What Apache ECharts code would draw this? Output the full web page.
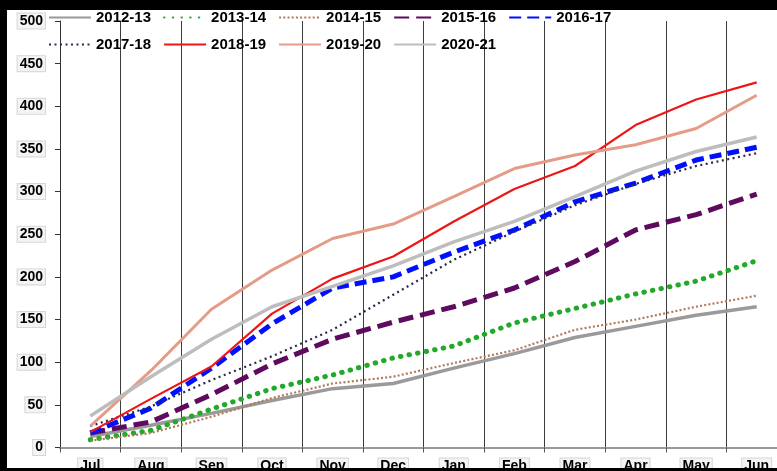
<!DOCTYPE html>
<html>
<head>
<meta charset="utf-8">
<script src="https://cdn.jsdelivr.net/npm/echarts@6/dist/echarts.min.js"></script>
<style>
  html, body { margin: 0; padding: 0; background: #fff; }
  #chart { width: 777px; height: 471px; }
</style>
</head>
<body>
<div id="chart"></div>
<script>
// Month categories (financial year, July to June)
const months = ['Jul', 'Aug', 'Sep', 'Oct', 'Nov', 'Dec', 'Jan', 'Feb', 'Mar', 'Apr', 'May', 'Jun'];

// Cumulative totals per season
const s2012_13 = [13, 26, 40, 55, 69, 75, 93, 110, 129, 142, 155, 165];
const s2013_14 = [9, 20, 45, 69, 85, 105, 119, 146, 163, 180, 195, 219];
const s2014_15 = [8, 17, 36, 58, 75, 83, 99, 114, 138, 150, 165, 178];
const s2015_16 = [17, 30, 62, 98, 127, 147, 165, 187, 218, 255, 273, 297];
const s2016_17 = [17, 46, 93, 145, 187, 200, 229, 255, 288, 310, 337, 352];
const s2017_18 = [25, 48, 79, 107, 138, 179, 220, 253, 284, 309, 330, 345];
const s2018_19 = [18, 57, 95, 157, 198, 224, 265, 303, 330, 378, 408, 428];
const s2019_20 = [25, 90, 162, 208, 245, 262, 294, 327, 343, 355, 374, 413];
const s2020_21 = [37, 83, 127, 165, 189, 213, 241, 265, 294, 324, 347, 364];

// Y axis range
const yMin = 0, yMax = 500, yStep = 50;

function line(name, data, color, width, type, cap) {
  return {
    name: name,
    type: 'line',
    data: data,
    symbol: 'none',
    showSymbol: false,
    smooth: false,
    animation: false,
    lineStyle: { color: color, width: width, type: type || 'solid', cap: cap || 'butt' },
    itemStyle: { color: color }
  };
}

const labelBox = {
  color: '#000',
  fontFamily: 'Liberation Sans, Arial, sans-serif',
  fontWeight: 'bold',
  fontSize: 14,
  backgroundColor: '#f4f4f4',
  borderColor: '#d6d6d6',
  borderWidth: 1,
  padding: [1, 2, 0, 2]
};

const chart = echarts.init(document.getElementById('chart'), null, { renderer: 'canvas' });
chart.setOption({
  backgroundColor: '#fff',
  animation: false,
  // plot area runs past the right edge of the canvas
  grid: { left: 60, top: 21, width: 727, height: 426.5, containLabel: false, outerBoundsMode: 'none' },
  legend: {
    left: 48,
    top: 10,
    width: 600,
    padding: 0,
    itemWidth: 42,
    itemHeight: 14,
    itemGap: 12,
    itemTextGap: 5,
    itemStyle: { opacity: 0, borderWidth: 0 },
    textStyle: { color: '#000', fontFamily: 'Liberation Sans, Arial, sans-serif', fontWeight: 'bold', fontSize: 15 }
  },
  xAxis: {
    type: 'category',
    data: months,
    boundaryGap: true,
    axisLine: { show: true, lineStyle: { color: '#999', width: 2 } },
    axisTick: { show: true, interval: 0, length: 5, lineStyle: { color: '#555' } },
    axisLabel: Object.assign({ interval: 0, margin: 11 }, labelBox),
    splitLine: { show: true, interval: 0, lineStyle: { color: '#3c3c3c', width: 1 } }
  },
  yAxis: {
    type: 'value',
    min: yMin,
    max: yMax,
    interval: yStep,
    axisLine: { show: true, lineStyle: { color: '#333', width: 1 } },
    axisTick: { show: true, length: 5, lineStyle: { color: '#333' } },
    axisLabel: Object.assign({ margin: 15 }, labelBox),
    splitLine: { show: false }
  },
  series: [
    line('2012-13', s2012_13, '#9a9a9a', 3.5),
    line('2013-14', s2013_14, '#22a82a', 5, [0.5, 8.2], 'round'),
    line('2014-15', s2014_15, '#b07a58', 2.2, [2, 2.2]),
    line('2015-16', s2015_16, '#5e0a5e', 5, [15, 7]),
    line('2016-17', s2016_17, '#0010ff', 5, [12, 6]),
    line('2017-18', s2017_18, '#2a2a4a', 2.2, [2, 3.5]),
    line('2018-19', s2018_19, '#ee1515', 2.2),
    line('2019-20', s2019_20, '#e49c88', 3),
    line('2020-21', s2020_21, '#bdbdbd', 3.5)
  ],
  graphic: [
    { type: 'rect', z: 100, shape: { x: 0, y: 0, width: 7, height: 471 }, style: { fill: '#000' } },
    { type: 'rect', z: 100, shape: { x: 0, y: 0, width: 777, height: 10 }, style: { fill: '#000' } },
    { type: 'rect', z: 100, shape: { x: 0, y: 468, width: 777, height: 3 }, style: { fill: '#000' } }
  ]
});
</script>
</body>
</html>
